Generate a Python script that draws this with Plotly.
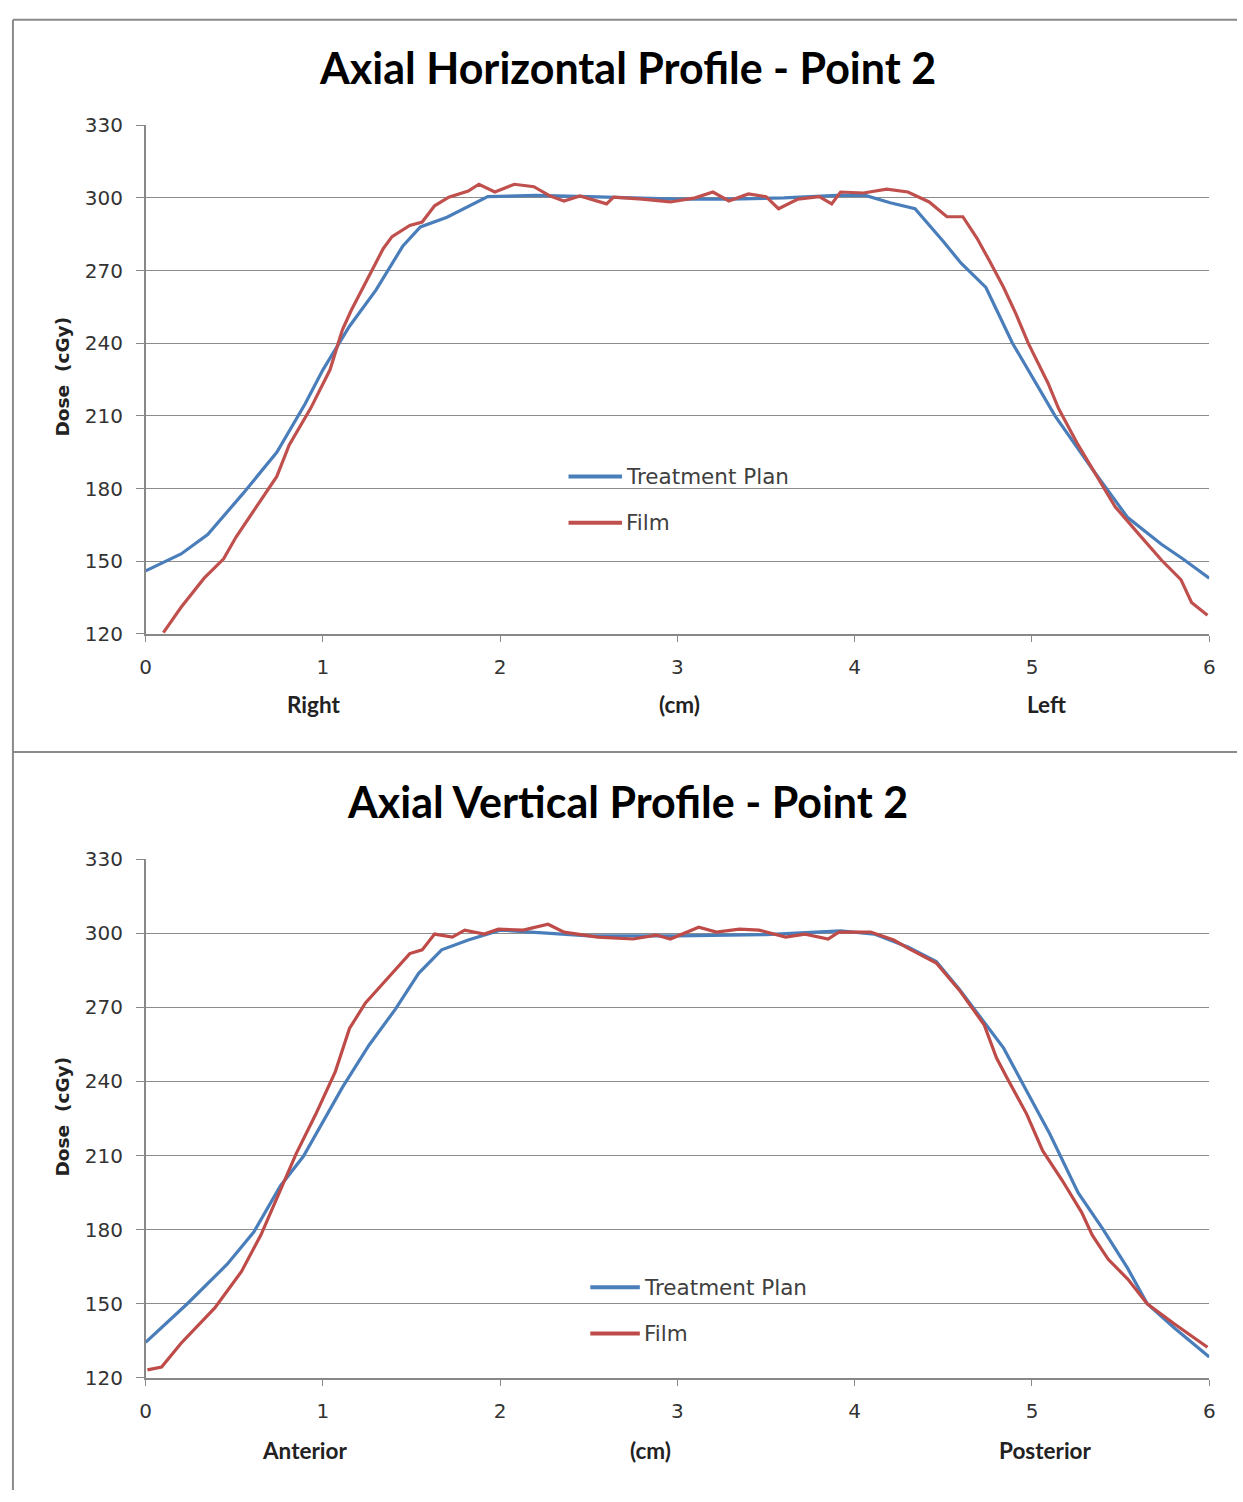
import plotly.graph_objects as go

# ---------------- data: Axial Horizontal Profile ----------------
h_plan_x = [0, 0.2, 0.35, 0.55, 0.74, 0.9, 1.0, 1.15, 1.3, 1.45, 1.55, 1.7, 1.93, 2.2, 2.5, 2.8,
            3.0, 3.3, 3.6, 3.9, 4.06, 4.2, 4.34, 4.5, 4.6, 4.74, 4.89, 5.13, 5.36, 5.54, 5.73, 5.85, 6.0]
h_plan_y = [146, 153, 161, 178, 195, 215, 229, 247, 262, 280, 288, 292, 300.5, 301, 300.5, 300,
            299.5, 299.5, 300, 301, 301, 298, 295.5, 282, 273, 263, 240, 210, 186, 168, 157, 151, 143]

h_film_x = [0.1, 0.2, 0.33, 0.44, 0.51, 0.61, 0.74, 0.81, 0.93, 1.04, 1.11, 1.16, 1.22, 1.28, 1.34,
            1.39, 1.49, 1.56, 1.63, 1.71, 1.82, 1.88, 1.97, 2.08, 2.19, 2.28, 2.36, 2.45, 2.6, 2.64,
            2.8, 2.96, 3.1, 3.2, 3.29, 3.4, 3.5, 3.57, 3.68, 3.8, 3.87, 3.92, 4.05, 4.18, 4.3, 4.42,
            4.52, 4.61, 4.69, 4.76, 4.84, 4.91, 4.98, 5.09, 5.15, 5.26, 5.36, 5.47, 5.6, 5.73, 5.84,
            5.9, 5.99]
h_film_y = [120.5, 131, 143, 151, 160, 171, 185, 198, 213, 229, 245.5, 253.6, 262, 270, 279,
            284, 288.6, 290, 296.7, 300.3, 302.8, 305.6, 302.4, 305.6, 304.6, 300.8, 298.7, 300.8, 297.5, 300.3,
            299.5, 298.3, 300, 302.4, 298.7, 301.6, 300.5, 295.5, 299.5, 300.5, 297.5, 302.4, 302, 303.6, 302.4, 298.3,
            292.2, 292.2, 283.3, 274, 263, 252, 239.8, 223.6, 213, 198, 185.8, 172.4, 161.4, 150.5, 142.4,
            133, 127.7]

# ---------------- data: Axial Vertical Profile ----------------
v_plan_x = [0, 0.235, 0.46, 0.61, 0.76, 0.89, 1.11, 1.26, 1.41, 1.54, 1.67, 1.82, 2.0, 2.5, 3.0,
            3.5, 3.92, 4.11, 4.3, 4.46, 4.59, 4.73, 4.84, 4.95, 5.1, 5.26, 5.4, 5.54, 5.65, 5.8, 6.0]
v_plan_y = [134.4, 150, 166, 179, 197.7, 209.7, 237.6, 254.7, 269.4, 283.8, 293.3, 297.3, 301.3, 299, 299,
            299.5, 301, 299.7, 294.5, 288.6, 277.4, 263.9, 253.5, 238.8, 218.8, 195, 180.2, 164.3, 150, 140.4, 128.4]

v_film_x = [0.01, 0.09, 0.2, 0.39, 0.54, 0.65, 0.76, 0.85, 0.96, 1.07, 1.15, 1.24, 1.34, 1.41, 1.49,
            1.56, 1.63, 1.73, 1.8, 1.91, 1.99, 2.13, 2.27, 2.36, 2.55, 2.75, 2.88, 2.96, 3.12, 3.22,
            3.35, 3.46, 3.61, 3.72, 3.85, 3.91, 4.09, 4.22, 4.3, 4.46, 4.59, 4.73, 4.8, 4.87, 4.97,
            5.06, 5.17, 5.28, 5.34, 5.43, 5.54, 5.65, 5.8, 5.99]
v_film_y = [123.2, 124.4, 134, 148.3, 163, 177.8, 196, 210.9, 226.8, 244, 261.5, 271.8, 279.8, 285.4, 291.8,
            293.3, 299.7, 298.5, 301.3, 299.7, 301.7, 301.3, 303.7, 300.5, 298.5, 297.7, 299.3, 297.7, 302.5, 300.5,
            301.7, 301.3, 298.5, 299.7, 297.7, 300.5, 300.5, 297.3, 294, 288, 277, 263, 249.5, 240, 226.8,
            212, 200, 187, 177.8, 168, 160, 150, 142, 132.4]

y_ticks = [120, 150, 180, 210, 240, 270, 300, 330]
x_ticks = [0, 1, 2, 3, 4, 5, 6]
series_names = ["Treatment Plan", "Film"]

PLAN_COLOR = "#4A7EBB"
FILM_COLOR_H = "#C0504D"
FILM_COLOR_V = "#BE4B48"

W, H = 1243, 1502


def px(x):
    return x / W


def py(y):
    return 1 - y / H


fig = go.Figure()

fig.add_trace(go.Scatter(x=h_plan_x, y=h_plan_y, mode="lines", name=series_names[0],
                         line=dict(color=PLAN_COLOR, width=3.2), xaxis="x", yaxis="y"))
fig.add_trace(go.Scatter(x=h_film_x, y=h_film_y, mode="lines", name=series_names[1],
                         line=dict(color=FILM_COLOR_H, width=3.2), xaxis="x", yaxis="y"))
fig.add_trace(go.Scatter(x=v_plan_x, y=v_plan_y, mode="lines", name=series_names[0],
                         line=dict(color=PLAN_COLOR, width=3.2), xaxis="x2", yaxis="y2"))
fig.add_trace(go.Scatter(x=v_film_x, y=v_film_y, mode="lines", name=series_names[1],
                         line=dict(color=FILM_COLOR_V, width=3.2), xaxis="x2", yaxis="y2"))

tick_font = dict(family="DejaVu Sans", size=20, color="#333333")

xaxis_common = dict(range=[0, 6], tickvals=x_ticks, ticks="outside", ticklen=6, tickcolor="#888888",
                    showline=True, linecolor="#888888", linewidth=1.5, showgrid=False, zeroline=False,
                    tickfont=tick_font, ticklabelstandoff=8, fixedrange=True)
yaxis_common = dict(range=[120, 330], tickvals=y_ticks, ticks="outside", ticklen=8, tickcolor="#888888",
                    showline=True, linecolor="#888888", linewidth=1.5, showgrid=True, gridcolor="#8c8c8c",
                    gridwidth=1.3, zeroline=False, tickfont=tick_font, ticklabelstandoff=9, fixedrange=True)

x_dom = [px(141), px(1215)]
fig.update_layout(
    width=W, height=H, margin=dict(l=0, r=0, t=0, b=0),
    paper_bgcolor="white", plot_bgcolor="white",
    xaxis=dict(domain=x_dom, anchor="y", **xaxis_common),
    yaxis=dict(domain=[py(632), py(115)], anchor="x", **yaxis_common),
    xaxis2=dict(domain=x_dom, anchor="y2", **xaxis_common),
    yaxis2=dict(domain=[py(1388), py(861)], anchor="x2", **yaxis_common),
    showlegend=False,
)

title_font = dict(family="Lato", size=43, color="#000000")
label_font = dict(family="Lato", size=22.5, color="#222222")
legend_font = dict(family="DejaVu Sans", size=21.5, color="#404040")
ann = []
ann.append(dict(text="<b>Axial Horizontal Profile - Point 2</b>", x=px(628), y=py(56), xref="paper", yref="paper",
                showarrow=False, font=title_font, xanchor="center", yanchor="middle"))
ann.append(dict(text="<b>Axial Vertical Profile - Point 2</b>", x=px(628), y=py(802), xref="paper", yref="paper",
                showarrow=False, font=title_font, xanchor="center", yanchor="middle"))
for yy in (370, 1122):
    ann.append(dict(text="<b>Dose  (cGy)</b>", x=px(57), y=py(yy), xref="paper", yref="paper", textangle=-90,
                    showarrow=False, font=dict(family="DejaVu Sans", size=18.5, color="#222222"),
                    xanchor="center", yanchor="middle"))
for txt, xx, yy in [("Right", 310, 704), ("(cm)", 680, 704), ("Left", 1051, 704),
                    ("Anterior", 301, 1462), ("(cm)", 651, 1462), ("Posterior", 1050, 1462)]:
    ann.append(dict(text="<b>" + txt + "</b>", x=px(xx), y=py(yy), xref="paper", yref="paper",
                    showarrow=False, font=label_font, xanchor="center", yanchor="middle"))

# manual legends (line sample + label)
shapes = []
legend_specs = [
    (568, 622, 472, PLAN_COLOR, series_names[0]),
    (568, 622, 519, FILM_COLOR_H, series_names[1]),
    (590, 640, 1296, PLAN_COLOR, series_names[0]),
    (590, 640, 1343, FILM_COLOR_V, series_names[1]),
]
for x0, x1, yy, col, name in legend_specs:
    shapes.append(dict(type="line", xref="paper", yref="paper", x0=px(x0), x1=px(x1), y0=py(yy), y1=py(yy),
                       line=dict(color=col, width=4)))
    ann.append(dict(text=name, x=px(x1 + 2), y=py(yy), xref="paper", yref="paper", showarrow=False,
                    font=legend_font, xanchor="left", yanchor="middle"))
fig.update_layout(annotations=ann)

border = dict(color="#8a8a8a", width=2)
shapes += [
    dict(type="line", xref="paper", yref="paper", x0=px(7), x1=1, y0=py(8), y1=py(8), line=border),
    dict(type="line", xref="paper", yref="paper", x0=px(7), x1=px(7), y0=py(8), y1=0, line=border),
    dict(type="line", xref="paper", yref="paper", x0=px(7), x1=1, y0=py(752), y1=py(752), line=border),
]
fig.update_layout(shapes=shapes)

fig.write_html("out.html")
